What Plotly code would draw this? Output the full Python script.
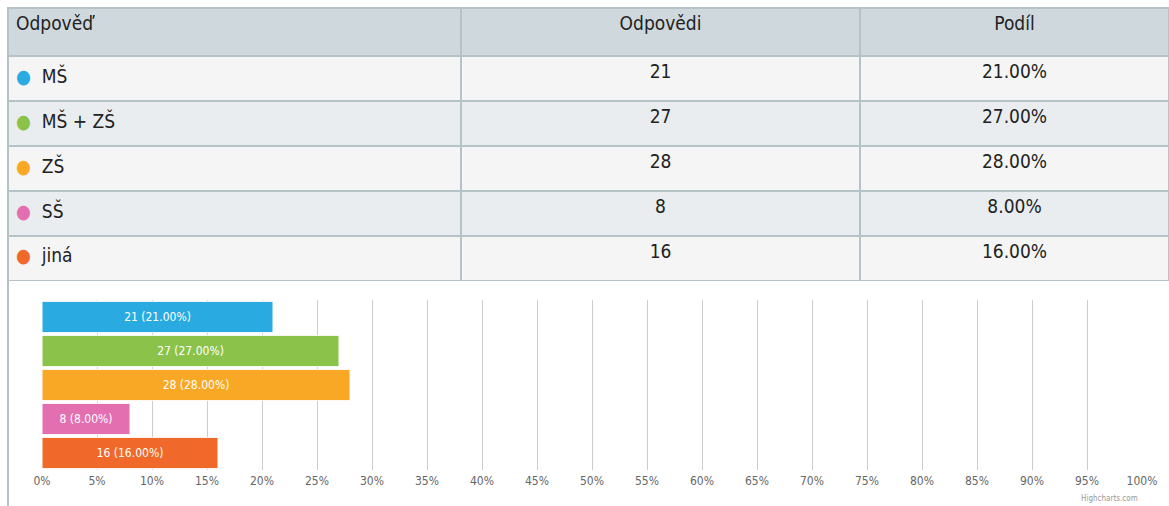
import plotly.graph_objects as go

categories = ["MŠ", "MŠ + ZŠ", "ZŠ", "SŠ", "jiná"]
counts = [21, 27, 28, 8, 16]
shares = [21.0, 27.0, 28.0, 8.0, 16.0]
colors = ["#29abe2", "#8bc34a", "#f9a825", "#e46fb0", "#f0692a"]
headers = ["Odpověď", "Odpovědi", "Podíl"]
tick_vals = list(range(0, 101, 5))
tick_text = [f"{v}%" for v in tick_vals]

W, H = 1169, 506
FONT = "DejaVu Sans Condensed, Liberation Sans Narrow, Roboto, sans-serif"
NB = "\u00a0"

first_col = [f"<span style='color:{c}'>●</span>{NB}{NB}{cat.replace(' ', NB)}"
             for c, cat in zip(colors, categories)]
row_fill = ["#f5f5f5" if i % 2 == 0 else "#e9edef" for i in range(len(categories))]

fig = go.Figure()

fig.add_trace(go.Table(
    domain=dict(x=[8 / W, 1.0], y=[1 - 281 / H, 1 - 8 / H]),
    columnwidth=[453, 399, 309],
    header=dict(
        values=headers,
        align=["left", "center", "center"],
        fill_color="#cfd8dc",
        line=dict(color="#b5c3c9", width=2),
        font=dict(family=FONT, size=19, color="#222222"),
        height=48,
    ),
    cells=dict(
        values=[first_col, [str(c) for c in counts], [f"{s:.2f}%" for s in shares]],
        align=["left", "center", "center"],
        fill_color=[row_fill, row_fill, row_fill],
        line=dict(color="#b5c3c9", width=2),
        font=dict(family=FONT, size=19, color="#222222"),
        height=45,
    ),
))

fig.add_trace(go.Bar(
    y=categories,
    x=shares,
    orientation="h",
    marker=dict(color=colors, line=dict(color="white", width=1)),
    text=[f"{c} ({s:.2f}%)" for c, s in zip(counts, shares)],
    textposition="inside",
    insidetextanchor="middle",
    textfont=dict(family=FONT, size=12, color="white"),
    width=0.92,
    showlegend=False,
    hoverinfo="skip",
))

fig.update_layout(
    width=W, height=H,
    autosize=False,
    margin=dict(l=0, r=0, t=0, b=0, pad=0, autoexpand=False),
    paper_bgcolor="white",
    plot_bgcolor="white",
    showlegend=False,
    uniformtext=dict(minsize=8, mode="show"),
    xaxis=dict(
        domain=[42 / W, 1142 / W],
        range=[0, 100],
        tickvals=tick_vals,
        ticktext=tick_text,
        showgrid=True,
        gridcolor="#cccccc",
        gridwidth=1,
        zeroline=False,
        showline=False,
        automargin=False,
        tickfont=dict(family=FONT, size=12, color="#666666"),
        ticks="",
        ticklabelstandoff=2,
        fixedrange=True,
    ),
    yaxis=dict(
        domain=[1 - 470 / H, 1 - 300 / H],
        autorange="reversed",
        showticklabels=False,
        showgrid=False,
        zeroline=False,
        automargin=False,
        ticks="",
        fixedrange=True,
    ),
    shapes=[
        dict(type="line", xref="paper", yref="paper",
             x0=8 / W, x1=8 / W, y0=0, y1=1 - 281 / H,
             line=dict(color="#b5c3c9", width=2)),
    ],
    annotations=[
        dict(text="Highcharts.com", xref="paper", yref="paper",
             x=1140 / W, y=1 - 498 / H, xanchor="right", yanchor="middle",
             showarrow=False, font=dict(family=FONT, size=8, color="#999999")),
    ],
)

fig.write_html(
    "out.html",
    config={"displayModeBar": False},
    post_script="document.body.style.margin='0';document.body.style.overflow='hidden';",
)
